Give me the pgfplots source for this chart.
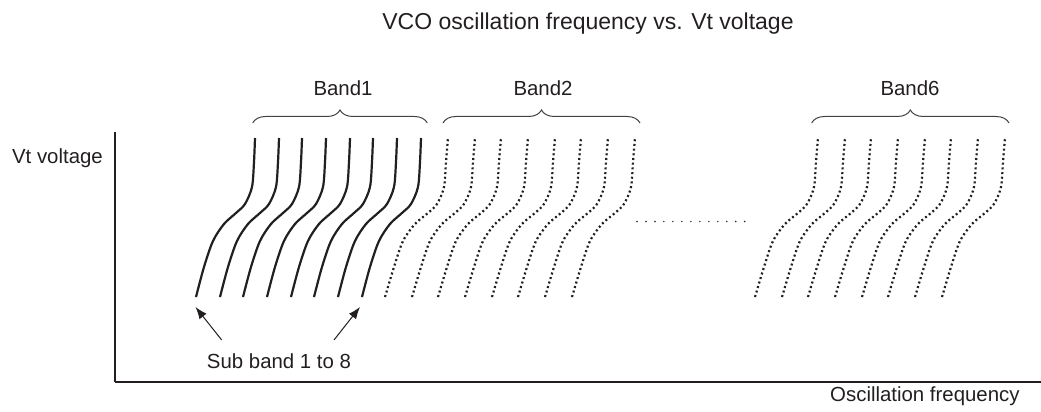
\documentclass[border=0pt]{standalone}
\usepackage{fontspec}
\setmainfont{Liberation Sans}
\usepackage{pgfplots}
\usepackage{pgfplotstable}
\pgfplotsset{compat=1.18}
\usetikzlibrary{decorations.pathreplacing,arrows.meta}
\definecolor{ink}{HTML}{231F20}

% Band 1 (solid), sub bands 1..8 : x positions (pixel units) at each y level
\pgfplotstableread{
y   c1  c2  c3  c4  c5  c6  c7  c8
115 196 220 243 267 291 314 338 362
145 204 228 251 275 299 322 346 370
171 213 237 260 284 308 331 355 379
188 224 248 271 295 319 342 366 390
199 236 260 283 307 331 354 378 402
208 245 269 292 316 340 363 387 411
225 252 276 299 323 347 370 394 418
250 254 278 301 325 349 372 396 420
274 255 279 302 326 350 373 397 421
}\bandone

% Band 2 (dotted)
\pgfplotstableread{
y   c1  c2  c3  c4  c5  c6  c7  c8
115 385 412 438 465 492 518 545 572
145 394 421 447 474 501 527 554 581
171 403 430 456 483 510 536 563 590
188 415 442 468 495 522 548 575 602
199 428 455 481 508 535 561 588 615
208 437 464 490 517 544 570 597 624
225 444 471 497 524 551 577 604 631
250 446 473 499 526 553 579 606 633
274 448 475 501 528 555 581 608 635
}\bandtwo

% Band 6 (dotted)
\pgfplotstableread{
y   c1  c2  c3  c4  c5  c6  c7  c8
115 755 782 808 835 862 888 915 942
145 764 791 817 844 871 897 924 951
171 773 800 826 853 880 906 933 960
188 785 812 838 865 892 918 945 972
199 798 825 851 878 905 931 958 985
208 807 834 860 887 914 940 967 994
225 814 841 867 894 921 947 974 1001
250 816 843 869 896 923 949 976 1003
274 818 845 871 898 925 951 978 1005
}\bandsix

\begin{document}
\begin{tikzpicture}[font=\fontsize{10.2}{12}\selectfont]
\begin{axis}[
  scale only axis,
  width=463pt, height=125pt,
  xmin=115, xmax=1041, ymin=30, ymax=280,
  axis x line=bottom, axis y line=left,
  axis line style={-, line width=1pt, ink},
  xtick=\empty, ytick=\empty,
  clip=false,
  solidc/.style={ink, line width=1.1pt, smooth, no marks},
  dotc/.style={ink, line width=1.1pt, smooth, no marks, dash pattern=on 1pt off 1.35pt},
]
\coordinate (SW) at (axis cs:0,0);
\coordinate (NE) at (axis cs:1041,412);

\foreach \c in {c1,c2,c3,c4,c5,c6,c7,c8}{
  \addplot[solidc] table[x=\c, y=y] {\bandone};
  \addplot[dotc] table[x=\c, y=y] {\bandtwo};
  \addplot[dotc] table[x=\c, y=y] {\bandsix};
}

% dotted continuation line
\addplot[ink, line width=0.8pt, line cap=round, dash pattern=on 0pt off 4.49pt, no marks]
  coordinates {(637,190.5) (753,190.5)};

% braces
\draw[ink!85, line width=0.5pt, decorate, decoration={brace, amplitude=6.5pt}]
  (axis cs:252.7,289) -- (axis cs:427.3,289);
\draw[ink!85, line width=0.5pt, decorate, decoration={brace, amplitude=6.5pt}]
  (axis cs:443,289) -- (axis cs:640,289);
\draw[ink!85, line width=0.5pt, decorate, decoration={brace, amplitude=6.5pt}]
  (axis cs:811.7,289) -- (axis cs:1009,289);

% band labels
\node[ink, anchor=base, inner sep=0pt] at (axis cs:343,316) {Band1};
\node[ink, anchor=base, inner sep=0pt] at (axis cs:543,316) {Band2};
\node[ink, anchor=base, inner sep=0pt] at (axis cs:910,316) {Band6};

% arrows
\draw[ink, line width=0.5pt, -{Latex[length=6pt,width=4.5pt]}]
  (axis cs:221.7,72) -- (axis cs:195.5,105);
\draw[ink, line width=0.5pt, -{Latex[length=6pt,width=4.5pt]}]
  (axis cs:334,72) -- (axis cs:360,105);
\node[ink, anchor=base, inner sep=0pt] at (axis cs:279,43.7) {Sub band 1 to 8};

% titles and axis labels
\node[ink, anchor=base west, inner sep=0pt, font=\fontsize{11.5}{13}\selectfont]
  at (axis cs:382,382) {VCO oscillation frequency vs. Vt voltage};
\node[ink, anchor=base west, inner sep=0pt] at (axis cs:11.7,248.7) {Vt voltage};
\node[ink, anchor=base east, inner sep=0pt] at (axis cs:1020,10.3) {Oscillation frequency};
\end{axis}
\pgfresetboundingbox
\path[use as bounding box] (SW) rectangle (NE);
\end{tikzpicture}
\end{document}
